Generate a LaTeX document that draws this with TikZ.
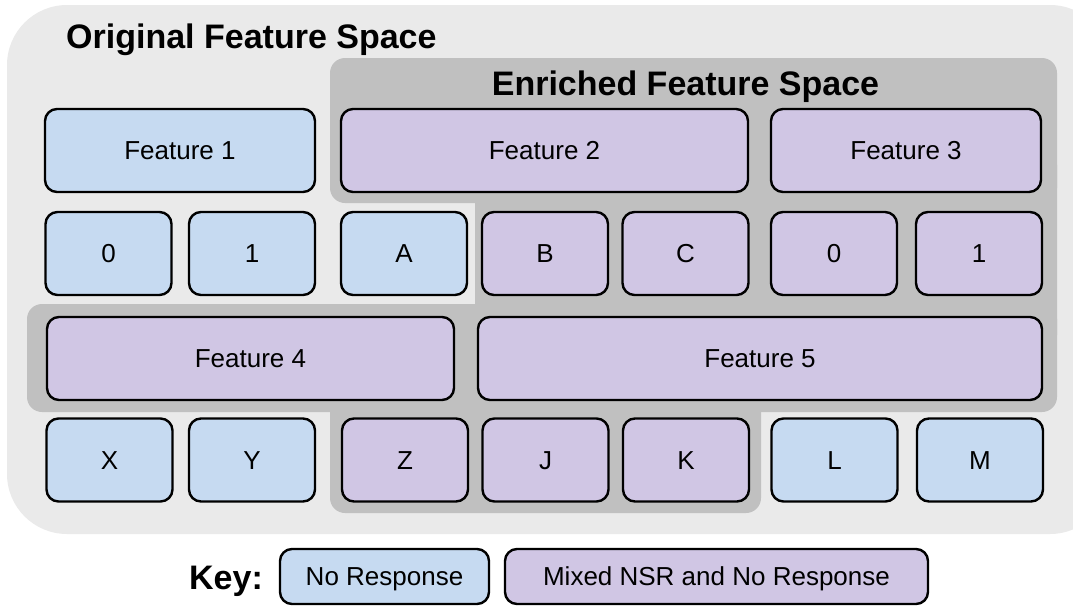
\documentclass[tikz,border=0pt]{standalone}
\usepackage{fontspec}
\setmainfont{Liberation Sans}
\definecolor{outergray}{HTML}{EAEAEA}
\definecolor{innergray}{HTML}{C0C0C0}
\definecolor{nrblue}{HTML}{C6DAF1}
\definecolor{mixpurple}{HTML}{D0C6E4}
\begin{document}
\begin{tikzpicture}[x=1pt,y=-1pt,
  cell/.style={draw=black, line width=2.4pt, rounded corners=12pt, inner sep=0pt,
    text height=18.7pt, text depth=0pt, minimum height=83pt,
    font=\fontsize{26}{30}\selectfont},
  nr/.style={cell, fill=nrblue},
  mix/.style={cell, fill=mixpurple},
  small/.style={minimum width=126pt},
  heading/.style={font=\fontsize{34}{40}\selectfont\bfseries, inner sep=0pt,
    text height=24.4pt, text depth=0pt},
  enriched/.style={fill=innergray, rounded corners=15pt}
]
\useasboundingbox (0,0) rectangle (1073,606);

% original feature space
\fill[outergray, rounded corners=60pt] (7,5) rectangle (1110,534);
\node[heading, anchor=west] (orig) at (66,36.5) {Original Feature Space};

% enriched feature space: union of overlapping rounded bands
\fill[enriched] (330,58) rectangle (1057,203);
\fill[enriched] (475,150) rectangle (1057,350);
\fill[enriched] (27,304) rectangle (1057,412);
\fill[enriched] (330,370) rectangle (761,513);
\node[heading] (enr) at (685.5,83) {Enriched Feature Space};

% row 1
\node[nr,  minimum width=270pt] (f1) at (180,150.5) {Feature 1};
\node[mix, minimum width=407pt] (f2) at (544.5,150.5) {Feature 2};
\node[mix, minimum width=270pt] (f3) at (906,150.5) {Feature 3};

% row 2
\node[nr,  small] (v10) at (108.5,253.5) {0};
\node[nr,  small] (v11) at (252,253.5) {1};
\node[nr,  small] (v2a) at (404,253.5) {A};
\node[mix, small] (v2b) at (545,253.5) {B};
\node[mix, small] (v2c) at (685.5,253.5) {C};
\node[mix, small] (v30) at (834,253.5) {0};
\node[mix, small] (v31) at (979,253.5) {1};

% row 3
\node[mix, minimum width=407pt] (f4) at (250.5,358.5) {Feature 4};
\node[mix, minimum width=564pt] (f5) at (760,358.5) {Feature 5};

% row 4
\node[nr,  small] (v4x) at (109.5,460) {X};
\node[nr,  small] (v4y) at (252,460) {Y};
\node[mix, small] (v5z) at (405,460) {Z};
\node[mix, small] (v5j) at (545.5,460) {J};
\node[mix, small] (v5k) at (686,460) {K};
\node[nr,  small] (v5l) at (834.5,460) {L};
\node[nr,  small] (v5m) at (980,460) {M};

% key
\node[heading] (key) at (226,577.5) {Key:};
\node[nr,  minimum width=209pt, minimum height=55pt] (knr) at (384.5,576.5) {No Response};
\node[mix, minimum width=423pt, minimum height=55pt] (kmix) at (716.5,576.5) {Mixed NSR and No Response};
\end{tikzpicture}
\end{document}
